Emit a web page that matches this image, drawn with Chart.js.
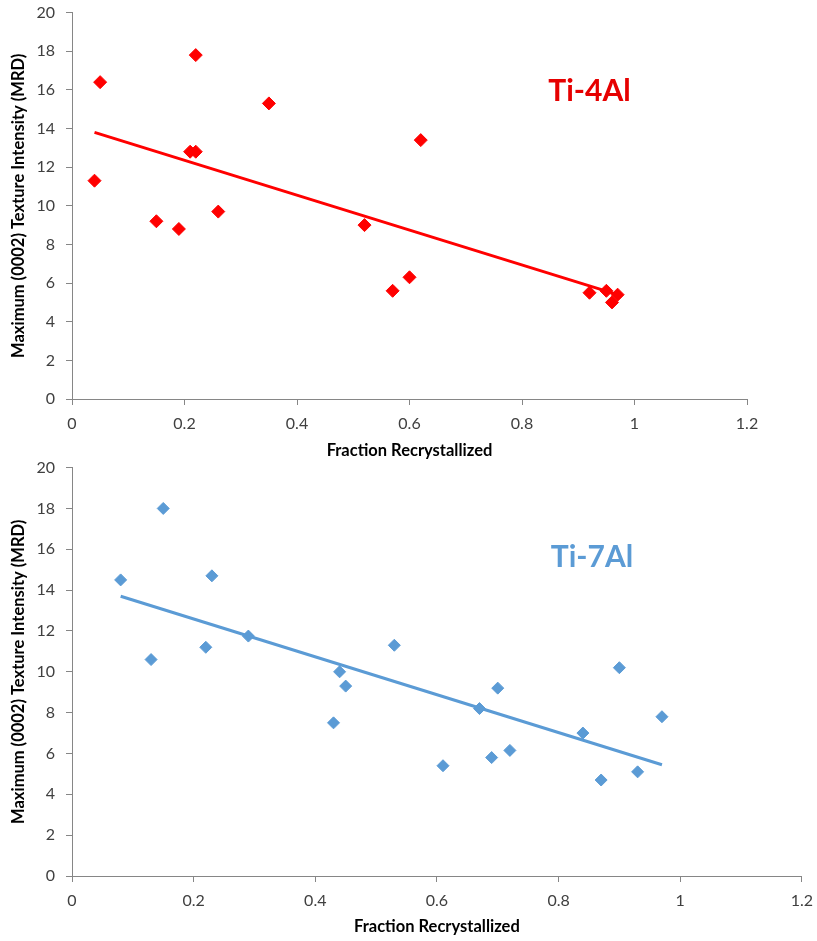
<!DOCTYPE html>
<html>
<head>
<meta charset="utf-8">
<script src="https://cdn.jsdelivr.net/npm/chart.js@4/dist/chart.umd.min.js"></script>
<style>
  body { margin: 0; background: #fff; overflow: hidden; }
  .box { position: absolute; left: 0; }
  #top { top: -8px; width: 817px; height: 478px; }
  #bottom { top: 447px; width: 822px; height: 494px; }
</style>
</head>
<body>
<div class="box" id="top"><canvas id="chartTop"></canvas></div>
<div class="box" id="bottom"><canvas id="chartBottom"></canvas></div>
<script>
// Ti-4Al data (fraction recrystallized vs max (0002) intensity)
const ti4X = [0.04, 0.05, 0.15, 0.19, 0.21, 0.22, 0.22, 0.26, 0.35, 0.52, 0.57, 0.60, 0.62, 0.92, 0.95, 0.96, 0.97];
const ti4Y = [11.3, 16.4, 9.2, 8.8, 12.8, 12.8, 17.8, 9.7, 15.3, 9.0, 5.6, 6.3, 13.4, 5.5, 5.6, 5.0, 5.4];
const ti4TrendX = [0.04, 0.97];
const ti4TrendY = [13.8, 5.4];

// Ti-7Al data
const ti7X = [0.08, 0.13, 0.15, 0.22, 0.23, 0.29, 0.43, 0.44, 0.45, 0.53, 0.61, 0.67, 0.69, 0.70, 0.72, 0.84, 0.87, 0.90, 0.93, 0.97];
const ti7Y = [14.5, 10.6, 18.0, 11.2, 14.7, 11.75, 7.5, 10.0, 9.3, 11.3, 5.4, 8.2, 5.8, 9.2, 6.15, 7.0, 4.7, 10.2, 5.1, 7.8];
const ti7TrendX = [0.08, 0.97];
const ti7TrendY = [13.7, 5.45];

// axis ticks
const xTicks = [0, 0.2, 0.4, 0.6, 0.8, 1, 1.2];
const xTickLabels = ["0", "0.2", "0.4", "0.6", "0.8", "1", "1.2"];
const yTicks = [0, 2, 4, 6, 8, 10, 12, 14, 16, 18, 20];
const yTickLabels = ["0", "2", "4", "6", "8", "10", "12", "14", "16", "18", "20"];

const xTitle = "Fraction Recrystallized";
const yTitle = "Maximum (0002) Texture Intensity (MRD)";

const FONT = "Lato, 'Open Sans', sans-serif";
const axisGray = "#868686";

function toPoints(xs, ys) {
  return xs.map((x, i) => ({ x: x, y: ys[i] }));
}

// draws the alloy name inside the plot, placed in data units
const alloyLabel = {
  id: "alloyLabel",
  afterDraw(chart, args, opts) {
    const { ctx, scales } = chart;
    ctx.save();
    ctx.font = "bold 30px " + FONT;
    ctx.fillStyle = opts.color;
    ctx.textAlign = "center";
    ctx.textBaseline = "middle";
    ctx.fillText(opts.text, scales.x.getPixelForValue(opts.x), scales.y.getPixelForValue(opts.y));
    ctx.restore();
  },
};

function makeChart(id, cfg) {
  return new Chart(document.getElementById(id), {
    type: "scatter",
    data: {
      datasets: [
        {
          label: cfg.name,
          data: toPoints(cfg.xs, cfg.ys),
          pointStyle: "rectRot",
          pointRadius: cfg.radius,
          pointHoverRadius: cfg.radius,
          backgroundColor: cfg.color,
          borderColor: cfg.color,
          borderWidth: 1,
        },
        {
          label: cfg.name + " trend",
          data: toPoints(cfg.trendX, cfg.trendY),
          showLine: true,
          pointRadius: 0,
          borderColor: cfg.color,
          borderWidth: 3,
        },
      ],
    },
    options: {
      responsive: true,
      maintainAspectRatio: false,
      animation: false,
      layout: { padding: { top: 12, right: cfg.padRight, left: 0, bottom: 0 } },
      plugins: {
        legend: { display: false },
        tooltip: { enabled: false },
        alloyLabel: { text: cfg.name, color: cfg.textColor, x: cfg.labelX, y: cfg.labelY },
      },
      scales: {
        x: {
          type: "linear",
          min: 0,
          max: 1.2,
          afterBuildTicks: (s) => { s.ticks = xTicks.map((v) => ({ value: v })); },
          afterFit: (s) => { s.height = cfg.xAxisHeight; },
          grid: { drawOnChartArea: false, drawTicks: true, tickLength: 6, color: axisGray },
          border: { display: true, color: axisGray, width: 1 },
          ticks: {
            padding: 9,
            color: "#404040",
            font: { family: FONT, size: 16 },
            callback: (v, i) => xTickLabels[i],
          },
          title: {
            display: true,
            text: xTitle,
            color: "#000",
            font: { family: FONT, size: 16.5, weight: "bold" },
            padding: { top: 0, bottom: cfg.xTitlePad },
          },
        },
        y: {
          type: "linear",
          min: 0,
          max: 20,
          afterBuildTicks: (s) => { s.ticks = yTicks.map((v) => ({ value: v })); },
          afterFit: (s) => { s.width = 72; },
          grid: { drawOnChartArea: false, drawTicks: true, tickLength: 6, color: axisGray },
          border: { display: true, color: axisGray, width: 1 },
          ticks: {
            padding: 11,
            color: "#404040",
            font: { family: FONT, size: 16 },
            callback: (v, i) => yTickLabels[i],
          },
          title: {
            display: true,
            text: yTitle,
            color: "#000",
            font: { family: FONT, size: 16.5, weight: "bold" },
            padding: { top: 9, bottom: 0 },
          },
        },
      },
    },
    plugins: [alloyLabel],
  });
}

makeChart("chartTop", {
  name: "Ti-4Al",
  xs: ti4X,
  ys: ti4Y,
  trendX: ti4TrendX,
  trendY: ti4TrendY,
  color: "#ff0000",
  textColor: "#e60000",
  radius: 6.5,
  padRight: 70,
  xAxisHeight: 71,
  xTitlePad: 9,
  labelX: 0.92,
  labelY: 15.9,
});

makeChart("chartBottom", {
  name: "Ti-7Al",
  xs: ti7X,
  ys: ti7Y,
  trendX: ti7TrendX,
  trendY: ti7TrendY,
  color: "#5b9bd5",
  textColor: "#5b9bd5",
  radius: 6,
  padRight: 16,
  xAxisHeight: 65,
  xTitlePad: 4,
  labelX: 0.855,
  labelY: 15.6,
});
</script>
</body>
</html>
